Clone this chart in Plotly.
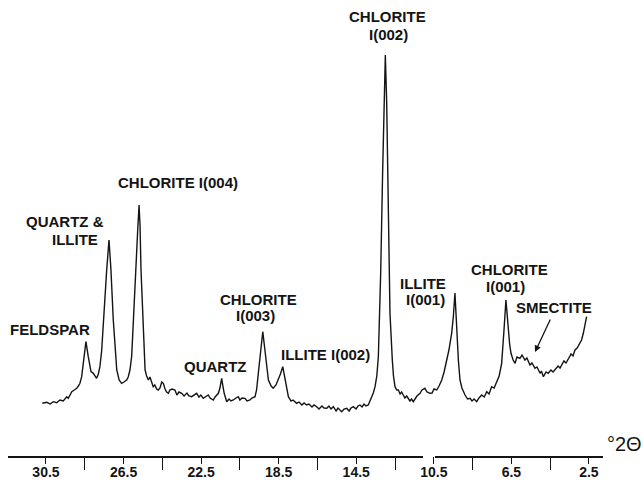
import plotly.graph_objects as go

# ---- data (degrees 2-theta, relative intensity) ----
two_theta = [
    30.69, 30.46, 30.29, 30.12, 29.95, 29.78, 29.61, 29.43, 29.35, 29.17, 29.04, 28.92, 28.83, 28.75,
    28.66, 28.52, 28.44, 28.32, 28.18, 28.06, 27.97, 27.89, 27.80, 27.72, 27.63, 27.54, 27.37, 27.25,
    27.15, 27.03, 26.94, 26.85, 26.73, 26.60, 26.48, 26.34, 26.26, 26.17, 26.08, 26.00, 25.86, 25.77,
    25.70, 25.65, 25.60, 25.48, 25.39, 25.31, 25.22, 25.14, 25.05, 24.97, 24.89, 24.79, 24.71, 24.62,
    24.53, 24.45, 24.36, 24.28, 24.19, 24.11, 24.00, 23.85, 23.75, 23.64, 23.50, 23.38, 23.23, 23.13,
    22.99, 22.87, 22.73, 22.61, 22.51, 22.39, 22.25, 22.13, 22.04, 21.87, 21.78, 21.61, 21.53, 21.44,
    21.36, 21.31, 21.18, 21.06, 20.96, 20.84, 20.70, 20.58, 20.50, 20.39, 20.24, 20.13, 19.98, 19.88,
    19.72, 19.64, 19.55, 19.43, 19.32, 19.21, 19.13, 19.03, 18.89, 18.78, 18.64, 18.52, 18.41, 18.29,
    18.17, 18.09, 18.00, 17.86, 17.76, 17.57, 17.45, 17.30, 17.19, 17.06, 16.94, 16.78, 16.68, 16.54,
    16.42, 16.27, 16.16, 16.02, 15.91, 15.80, 15.68, 15.54, 15.44, 15.25, 15.13, 14.99, 14.87, 14.77,
    14.65, 14.51, 14.41, 14.31, 14.20, 14.10, 14.00, 13.88, 13.79, 13.70, 13.62, 13.53, 13.44, 13.36,
    13.24, 13.14, 13.07, 13.00, 12.93, 12.85, 12.76, 12.64, 12.58, 12.50, 12.41, 12.33, 12.24, 12.16,
    12.07, 11.99, 11.90, 11.82, 11.73, 11.65, 11.56, 11.47, 11.37, 11.21, 11.11, 10.96, 10.85, 10.70,
    10.59, 10.49, 10.35, 10.23, 10.09, 9.97, 9.84, 9.72, 9.58, 9.49, 9.41, 9.36, 9.29, 9.23,
    9.15, 9.05, 8.89, 8.76, 8.63, 8.53, 8.42, 8.29, 8.17, 8.03, 7.90, 7.77, 7.65, 7.52,
    7.39, 7.26, 7.13, 7.00, 6.93, 6.88, 6.78, 6.72, 6.66, 6.59, 6.52, 6.41, 6.31, 6.21,
    6.06, 5.95, 5.80, 5.70, 5.54, 5.44, 5.28, 5.18, 5.02, 4.95, 4.85, 4.71, 4.60, 4.46,
    4.35, 4.25, 4.09, 3.99, 3.91, 3.79, 3.68, 3.56, 3.42, 3.32, 3.22, 3.11, 2.96, 2.88,
    2.79, 2.70, 2.62,
]
intensity = [
    52.7, 53.7, 52.0, 54.3, 53.3, 56.0, 55.0, 59.3, 57.7, 64.3, 66.0, 67.7, 70.0, 72.7,
    79.3, 99.3, 114.3, 99.3, 84.3, 82.7, 80.0, 77.7, 82.0, 89.3, 105.0, 136.0, 186.0, 216.0,
    186.0, 136.0, 105.0, 86.0, 76.0, 72.7, 74.0, 76.0, 79.0, 86.0, 100.0, 136.0, 186.0, 226.0,
    251.0, 230.0, 186.0, 136.0, 86.0, 80.0, 76.0, 79.0, 74.0, 69.3, 71.0, 67.0, 66.0, 68.0,
    74.0, 72.7, 67.0, 64.0, 62.7, 66.0, 67.0, 66.0, 61.0, 64.0, 62.7, 60.0, 63.0, 60.0,
    59.3, 61.0, 62.7, 59.0, 61.0, 57.7, 60.0, 61.0, 58.0, 56.0, 59.0, 62.7, 68.0, 77.7,
    68.0, 62.7, 54.3, 57.0, 55.0, 56.0, 58.0, 59.3, 56.0, 58.0, 57.7, 55.0, 56.0, 58.0,
    59.3, 66.0, 82.7, 106.0, 124.3, 106.0, 90.0, 76.0, 70.0, 67.7, 71.0, 76.0, 82.0, 89.3,
    76.0, 66.0, 59.3, 55.0, 56.0, 52.7, 54.0, 51.0, 53.0, 51.0, 52.0, 49.0, 51.0, 49.3,
    47.0, 50.0, 48.0, 47.7, 50.0, 47.0, 49.3, 45.0, 48.0, 44.3, 47.0, 47.7, 45.0, 48.0,
    49.3, 47.0, 50.0, 51.0, 49.0, 52.0, 50.0, 51.0, 55.0, 59.3, 63.0, 69.3, 80.0, 99.3,
    182.7, 282.7, 356.0, 401.0, 352.7, 249.3, 142.7, 96.0, 80.0, 69.3, 66.0, 66.0, 62.0, 64.0,
    61.0, 58.0, 60.0, 57.7, 55.0, 57.0, 54.3, 57.0, 60.0, 62.7, 66.0, 67.7, 64.0, 62.7,
    63.0, 67.0, 66.0, 70.0, 76.0, 84.0, 96.0, 106.0, 122.7, 140.0, 163.0, 140.0, 116.0, 95.0,
    76.0, 68.0, 61.0, 57.0, 57.7, 55.0, 57.0, 54.3, 58.0, 61.0, 59.0, 64.3, 62.0, 69.3,
    68.0, 74.3, 80.0, 92.7, 108.0, 126.0, 156.0, 140.0, 126.0, 112.0, 102.7, 96.0, 92.7, 99.0,
    97.7, 101.0, 96.0, 98.0, 91.0, 93.0, 87.7, 89.0, 82.7, 85.0, 79.3, 84.0, 82.7, 86.0,
    84.0, 86.0, 90.0, 88.0, 91.0, 95.0, 93.0, 97.7, 102.0, 100.0, 106.0, 108.0, 112.7, 116.0,
    122.7, 130.0, 139.3,
]

tick_vals = [30.5, 28.5, 26.5, 24.5, 22.5, 20.5, 18.5, 16.5, 14.5, 12.5, 10.5, 8.5, 6.5, 4.5, 2.5]
upper_row = [30.5, 26.5, 22.5, 18.5, 14.5, 10.5, 6.5, 2.5]
lower_row = [28.5, 24.5, 20.5, 16.5, 12.5, 8.5, 4.5]

labels = [
    "CHLORITE", "I(002)", "CHLORITE I(004)", "QUARTZ &", "ILLITE", "FELDSPAR",
    "CHLORITE", "I(003)", "QUARTZ", "ILLITE I(002)", "ILLITE", "I(001)",
    "CHLORITE", "I(001)", "SMECTITE",
]

# ---- layout geometry ----
W, H = 644, 483
MB = 27
PH = H - MB
X_RANGE = [32.872, -0.340]


def px_to_deg(px):
    return X_RANGE[0] + (X_RANGE[1] - X_RANGE[0]) * px / W


label_px = [
    (387, 17), (388, 34), (178, 182), (65, 222), (75, 239), (50, 329),
    (258, 299.5), (255, 316), (215, 366), (325.5, 354), (423, 283), (425, 299),
    (509, 269), (505, 286), (554, 307.5),
]

INK = "#141414"
FONT = "Liberation Sans"

fig = go.Figure()
# empty traces to carry the broken axis-line segments
fig.add_trace(go.Scatter(x=[], y=[], xaxis="x2", yaxis="y", showlegend=False))
fig.add_trace(go.Scatter(x=[], y=[], xaxis="x3", yaxis="y", showlegend=False))
fig.add_trace(go.Scatter(x=two_theta, y=intensity, mode="lines",
                         line=dict(color=INK, width=1.4), showlegend=False,
                         hoverinfo="skip"))

tick_text = [f"{v}" if v in upper_row else f"<br>{v}" for v in tick_vals]

seg1 = (8, 423)
seg2 = (435, 603)

fig.update_layout(
    width=W, height=H,
    margin=dict(l=0, r=0, t=0, b=MB, autoexpand=False),
    paper_bgcolor="white", plot_bgcolor="rgba(0,0,0,0)",
    showlegend=False,
    xaxis=dict(range=X_RANGE, domain=[0, 1], showline=False, showgrid=False,
               zeroline=False, tickmode="array", tickvals=tick_vals, ticktext=tick_text,
               ticks="outside", ticklen=7, tickwidth=1.4, tickcolor=INK,
               ticklabelstandoff=-4,
               tickfont=dict(family=FONT, size=14, color=INK, weight="bold"),
               minor=dict(tickvals=lower_row, ticks="outside", ticklen=13,
                          tickwidth=1.4, tickcolor=INK, showgrid=False),
               automargin=False, fixedrange=True),
    xaxis2=dict(domain=[seg1[0] / W, seg1[1] / W],
                range=[px_to_deg(seg1[0]), px_to_deg(seg1[1])],
                anchor="y", showline=True, linecolor=INK, linewidth=1.6,
                showticklabels=False, ticks="", showgrid=False, zeroline=False,
                automargin=False),
    xaxis3=dict(domain=[seg2[0] / W, seg2[1] / W],
                range=[px_to_deg(seg2[0]), px_to_deg(seg2[1])],
                anchor="y", showline=True, linecolor=INK, linewidth=1.6,
                showticklabels=False, ticks="", showgrid=False, zeroline=False,
                automargin=False),
    yaxis=dict(range=[0, PH], visible=False, fixedrange=True),
)

for text, (px, py) in zip(labels, label_px):
    fig.add_annotation(text=text, x=px / W, y=(PH - py) / PH, xref="paper", yref="paper",
                       showarrow=False, xanchor="center", yanchor="middle",
                       font=dict(family=FONT, size=15, color=INK, weight="bold"))

# arrow pointing at the smectite hump
fig.add_annotation(x=px_to_deg(535), y=PH - 352, xref="x", yref="y", text="",
                   showarrow=True, arrowhead=2, arrowsize=1, arrowwidth=1.3,
                   arrowcolor=INK, ax=16, ay=-34)

fig.add_annotation(text="°2Θ", x=1.0, y=(PH - 444) / PH, xref="paper", yref="paper",
                   showarrow=False, xanchor="right", yanchor="middle",
                   font=dict(family=FONT, size=20, color=INK))

fig.write_html("out.html")
